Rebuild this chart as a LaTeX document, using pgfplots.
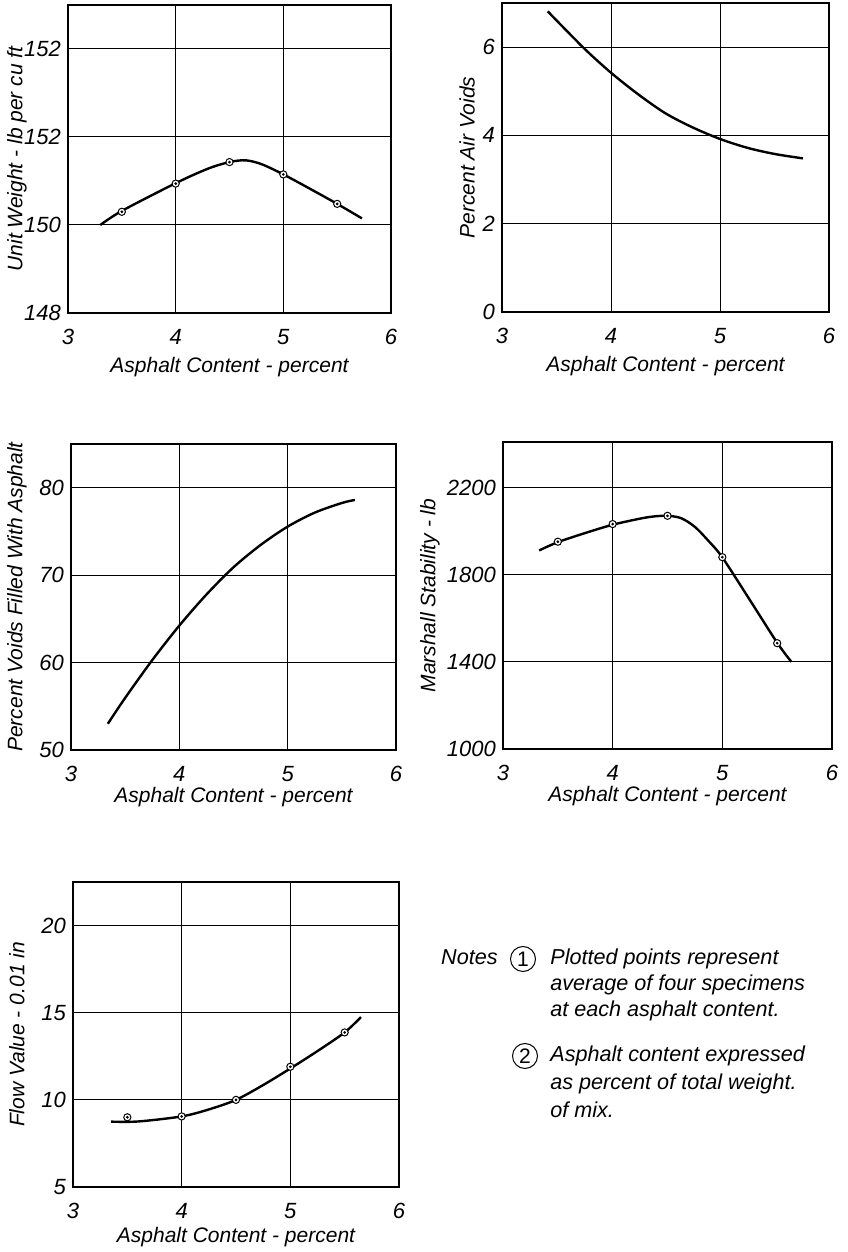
\documentclass[border=0pt]{standalone}
\usepackage{fontspec}
\setmainfont{Liberation Sans}
\usepackage{pgfplots}
\pgfplotsset{compat=1.18}

\pgfplotsset{
  panel/.style={
    scale only axis, anchor=south west,
    xmin=3, xmax=6, xtick={3,4,5,6}, xticklabels={3,4,5,6},
    grid=major, major grid style={black, line width=0.5pt},
    axis line style={line width=1pt},
    major tick length=0pt,
    tick label style={font=\fontsize{11}{12}\selectfont\itshape},
    label style={font=\fontsize{10.5}{12}\selectfont\itshape},
    xticklabel style={anchor=center, yshift=-12pt},
    /pgf/number format/assume math mode=true,
  },
  curve/.style={black, line width=1.2pt, smooth, no marks},
  pts/.style={only marks, mark=*, mark size=1.8pt,
    mark options={fill=white, draw=black, line width=0.5pt}},
  dots/.style={only marks, mark=*, mark size=0.45pt, black},
}

\begin{document}
\begin{tikzpicture}
\useasboundingbox (0pt,0pt) rectangle (423.5pt,626pt);

% unit weight
\begin{axis}[panel, at={(34pt,469.5pt)}, width=161.5pt, height=154pt,
  ymin=148, ymax=155, ytick={148,150,152,154}, yticklabels={148,150,152,152},
  xlabel={Asphalt Content - percent}, ylabel={Unit Weight - lb per cu ft},
  xlabel style={at={(axis description cs:0.5,-0.175)}, anchor=center},
  ylabel style={at={(axis description cs:-0.158,0.5)}, anchor=center}]
\addplot[curve] coordinates {(3.3,150.0) (3.5,150.32) (4.0,150.95) (4.3,151.28)
  (4.5,151.43) (4.65,151.47) (4.8,151.38) (5.0,151.15) (5.25,150.82) (5.5,150.48) (5.73,150.15)};
\addplot[pts] coordinates {(3.5,150.3) (4.0,150.94) (4.5,151.43) (5.0,151.15) (5.5,150.48)};
\addplot[dots] coordinates {(3.5,150.3) (4.0,150.94) (4.5,151.43) (5.0,151.15) (5.5,150.48)};
\end{axis}

% air voids
\begin{axis}[panel, at={(251pt,470pt)}, width=163.5pt, height=154.5pt,
  ymin=0, ymax=7, ytick={0,2,4,6}, yticklabels={0,2,4,6},
  xlabel={Asphalt Content - percent}, ylabel={Percent Air Voids},
  xlabel style={at={(axis description cs:0.5,-0.175)}, anchor=center},
  ylabel style={at={(axis description cs:-0.107,0.5)}, anchor=center}]
\addplot[curve] coordinates {(3.42,6.81) (3.75,5.98) (4.0,5.42) (4.25,4.93)
  (4.5,4.5) (4.75,4.18) (5.0,3.92) (5.25,3.72) (5.5,3.58) (5.76,3.48)};
\end{axis}

% voids filled
\begin{axis}[panel, at={(35.5pt,251pt)}, width=162.5pt, height=153pt,
  ymin=50, ymax=85, ytick={50,60,70,80}, yticklabels={50,60,70,80},
  xlabel={Asphalt Content - percent}, ylabel={Percent Voids Filled With Asphalt},
  xlabel style={at={(axis description cs:0.5,-0.154)}, anchor=center},
  ylabel style={at={(axis description cs:-0.166,0.5)}, anchor=center}]
\addplot[curve] coordinates {(3.34,53.0) (3.5,55.96) (3.75,60.28) (4.0,64.23) (4.25,67.78)
  (4.5,70.9) (4.75,73.45) (5.0,75.55) (5.25,77.15) (5.5,78.25) (5.62,78.6)};
\end{axis}

% stability
\begin{axis}[panel, at={(251.5pt,251.5pt)}, width=164.5pt, height=153.5pt,
  ymin=1000, ymax=2410, ytick={1000,1400,1800,2200}, yticklabels={1000,1400,1800,2200},
  xlabel={Asphalt Content - percent}, ylabel={Marshall Stability - lb},
  xlabel style={at={(axis description cs:0.5,-0.154)}, anchor=center},
  ylabel style={at={(axis description cs:-0.222,0.5)}, anchor=center}]
\addplot[curve] coordinates {(3.33,1912) (3.5,1950) (3.75,1992) (4.0,2030) (4.25,2058)
  (4.375,2068) (4.5,2071) (4.625,2060) (4.75,2020) (4.875,1955) (5.0,1880) (5.25,1685) (5.5,1488) (5.63,1400)};
\addplot[pts] coordinates {(3.5,1952) (4.0,2033) (4.5,2071) (5.0,1881) (5.5,1486)};
\addplot[dots] coordinates {(3.5,1952) (4.0,2033) (4.5,2071) (5.0,1881) (5.5,1486)};
\end{axis}

% flow
\begin{axis}[panel, at={(36.5pt,32.5pt)}, width=163pt, height=152.5pt,
  ymin=5, ymax=22.5, ytick={5,10,15,20}, yticklabels={5,10,15,20},
  xlabel={Asphalt Content - percent}, ylabel={Flow Value - 0.01 in},
  xlabel style={at={(axis description cs:0.5,-0.164)}, anchor=center},
  ylabel style={at={(axis description cs:-0.172,0.5)}, anchor=center}]
\addplot[curve] coordinates {(3.35,8.75) (3.6,8.76) (4.0,9.05) (4.25,9.45) (4.5,10.0)
  (4.75,10.85) (5.0,11.8) (5.25,12.8) (5.5,13.87) (5.65,14.75)};
\addplot[pts] coordinates {(3.5,9.0) (4.0,9.05) (4.5,10.0) (5.0,11.9) (5.5,13.87)};
\addplot[dots] coordinates {(3.5,9.0) (4.0,9.05) (4.5,10.0) (5.0,11.9) (5.5,13.87)};
\end{axis}

% notes
\begin{scope}[every node/.style={font=\fontsize{10.8}{12}\selectfont\itshape, inner sep=0pt}]
\node[anchor=base east] at (249pt,143.5pt) {Notes};
\node[draw, circle, minimum size=12.5pt, line width=0.5pt, font=\fontsize{10.5}{12}\selectfont] at (261.5pt,146.5pt) {1};
\node[anchor=base west] at (275pt,143.5pt) {Plotted points represent};
\node[anchor=base west] at (275pt,130.5pt) {average of four specimens};
\node[anchor=base west] at (275pt,117.5pt) {at each asphalt content.};
\node[draw, circle, minimum size=12.5pt, line width=0.5pt, font=\fontsize{10.5}{12}\selectfont] at (262.5pt,98pt) {2};
\node[anchor=base west] at (275pt,95pt) {Asphalt content expressed};
\node[anchor=base west] at (275pt,81pt) {as percent of total weight.};
\node[anchor=base west] at (275pt,67pt) {of mix.};
\end{scope}
\end{tikzpicture}
\end{document}
